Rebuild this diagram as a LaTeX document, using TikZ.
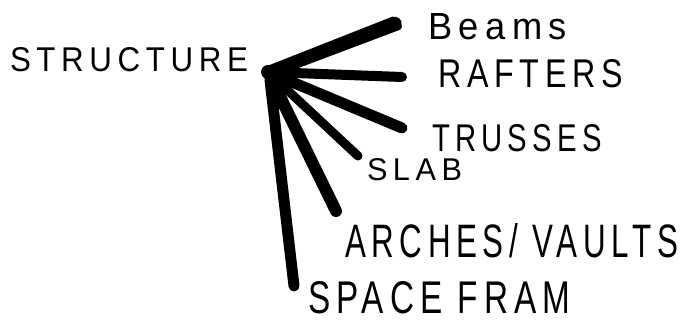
\documentclass[tikz,border=0pt]{standalone}
\usepackage{fontspec}
\usepackage{graphicx}
\newfontfamily\handfont[LetterSpace=18]{Liberation Sans}
\newcommand{\fitlabel}[3]{\resizebox{#1pt}{#2pt}{\handfont #3}}
\tikzset{
  branch/.style={line width=#1, line cap=round, draw=black},
  branch/.default=10pt,
  word/.style={inner sep=0pt, outer sep=0pt, anchor=south west, text=black},
}
\begin{document}
\begin{tikzpicture}[x=1pt,y=-1pt]
\useasboundingbox[fill=white] (0,0) rectangle (682,322);
% hub and branch ends
\coordinate (hub) at (268,72);
\coordinate (hubv) at (270,80);
\coordinate (eBeams) at (397,23);
\coordinate (eRafters) at (402,77);
\coordinate (eTrusses) at (402,128);
\coordinate (eSlab) at (358,156);
\coordinate (eArches) at (336,211);
\coordinate (eSpace) at (294,286);
% labels
\node[word] (structure) at (10,72) {\fitlabel{238}{24}{STRUCTURE}};
\node[word] (beams) at (428,40) {\fitlabel{139}{26}{Beams}};
\node[word] (rafters) at (438,88) {\fitlabel{185}{28}{RAFTERS}};
\node[word] (trusses) at (432,152) {\fitlabel{170}{27}{TRUSSES}};
\node[word] (slab) at (367,181) {\fitlabel{95}{22}{SLAB}};
\node[word] (arches) at (345,258) {\fitlabel{333}{34}{ARCHES/ VAULTS}};
\node[word] (space) at (308,314) {\fitlabel{262}{32}{SPACE FRAM}};
% branches
\fill[black, rounded corners=2pt] (262,68) -- (394,16) -- (401,19) -- (402,29) -- (272,78) -- cycle;
\draw[branch=10pt] (hub) -- (eRafters);
\draw[branch=11pt] (hub) -- (eTrusses);
\draw[branch=9pt] (hub) -- (eSlab);
\draw[branch=12pt] (hub) -- (eArches);
\draw[branch=11pt] (hubv) -- (eSpace);
\fill[black] (hub) circle (7pt);
\end{tikzpicture}
\end{document}
